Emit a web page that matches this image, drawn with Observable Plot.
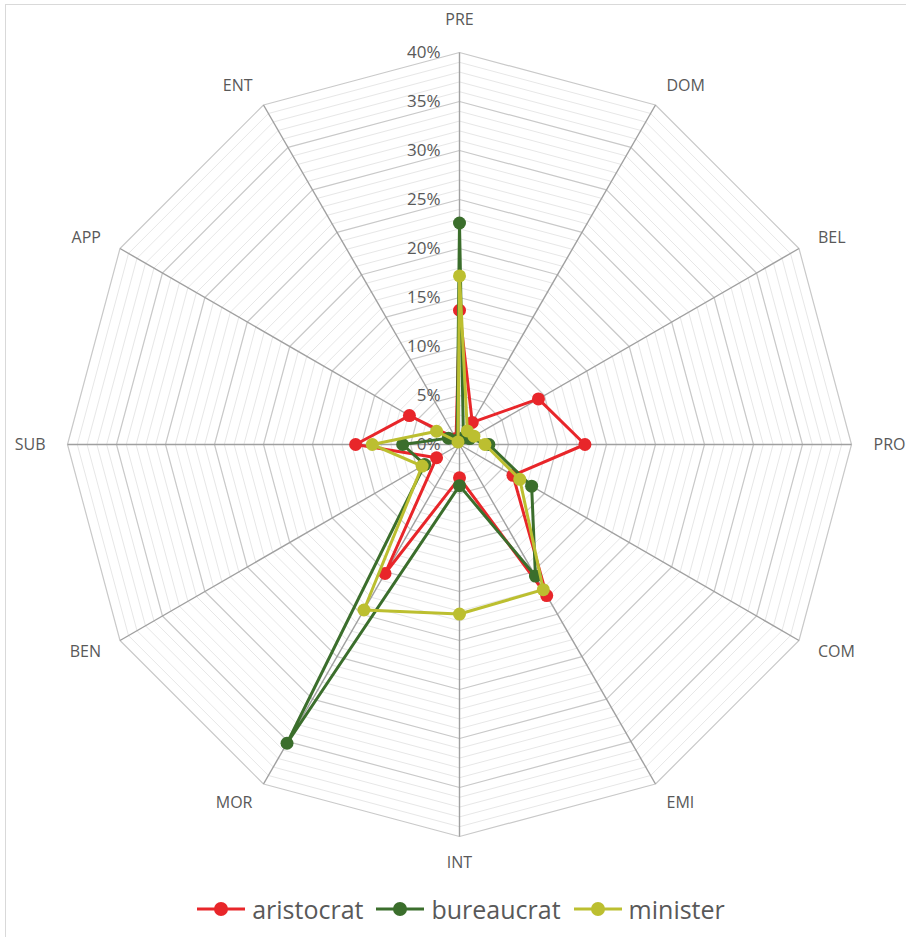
<!DOCTYPE html>
<html>
<head>
<meta charset="utf-8">
<script src="https://cdn.jsdelivr.net/npm/d3@7"></script>
<script src="https://cdn.jsdelivr.net/npm/@observablehq/plot@0.6"></script>
<style>
  html, body { margin: 0; padding: 0; background: #fff; overflow: hidden; }
  body { width: 906px; height: 937px; position: relative; font-family: "Open Sans", sans-serif; }
  #frame { position: absolute; left: 5px; top: 4px; width: 1000px; height: 1000px; border: 1.5px solid #d9d9d9; pointer-events: none; }
  #chart { position: absolute; left: 0; top: 0; }
  #legend { position: absolute; left: 0; top: 880px; width: 906px; height: 57px; display: flex; justify-content: center; align-items: center; gap: 13px; padding-left: 16px; box-sizing: border-box; }
  .item { display: flex; align-items: center; gap: 7px; font-size: 25px; color: #595959; }
</style>
</head>
<body>
<div id="chart"></div>
<div id="legend"></div>
<div id="frame"></div>
<script>
const categories = ["PRE","DOM","BEL","PRO","COM","EMI","INT","MOR","BEN","SUB","APP","ENT"];
const aristocrat = [13.7, 2.6, 9.3, 12.8, 6.3, 17.8, 3.4, 15.2, 2.7, 10.6, 5.9, 0.7];
const bureaucrat = [22.6, 0.8, 1.2, 3.0, 8.5, 15.5, 4.2, 35.2, 4.1, 5.8, 1.3, 0.5];
const minister   = [17.2, 1.6, 1.7, 2.6, 7.1, 17.1, 17.3, 19.5, 4.4, 8.9, 2.7, 0.3];
const seriesNames = ["aristocrat", "bureaucrat", "minister"];
const seriesColors = ["#e8262a", "#3b6e2c", "#bcbf30"];
const tickValues = [0, 5, 10, 15, 20, 25, 30, 35, 40];
const tickLabels = ["0%", "5%", "10%", "15%", "20%", "25%", "30%", "35%", "40%"];

const W = 906, H = 880, cx = 459, cy = 444, k = 9.8, maxV = 40;
const n = categories.length;
const ang = i => (i * 2 * Math.PI) / n;
const px = (v, i) => v * Math.sin(ang(i));
const py = (v, i) => v * Math.cos(ang(i));

// grid rings
const rings = [];
for (let v = 1; v <= maxV; v++) {
  for (let i = 0; i <= n; i++) rings.push({ring: v, major: v % 5 === 0, x: px(v, i % n), y: py(v, i % n)});
}
const minor = rings.filter(d => !d.major);
const major = rings.filter(d => d.major);
const spokes = categories.map((c, i) => ({x2: px(maxV, i), y2: py(maxV, i)}));

const allSeries = [aristocrat, bureaucrat, minister];
const seriesMarks = [];
allSeries.forEach((vals, s) => {
  const pts = vals.map((v, i) => ({x: px(v, i), y: py(v, i)}));
  const closed = pts.concat([pts[0]]);
  seriesMarks.push(Plot.line(closed, {x: "x", y: "y", stroke: seriesColors[s], strokeWidth: 3, strokeLinejoin: "round", curve: "linear"}));
  seriesMarks.push(Plot.dot(pts, {x: "x", y: "y", r: 6.5, fill: seriesColors[s], stroke: "none"}));
});

const labR = maxV + 22 / k;
const labels = categories.map((c, i) => {
  const s = Math.sin(ang(i)), co = Math.cos(ang(i));
  let anchor = Math.abs(s) < 0.1 ? "middle" : (s > 0 ? "start" : "end");
  let dy = Math.abs(s) < 0.1 ? (co > 0 ? -11 : 4) : 0;
  return {name: c, x: px(labR, i), y: py(labR, i), anchor, dy};
});

const ticks = tickValues.map((v, j) => ({x: 0, y: v, label: tickLabels[j]}));

const plot = Plot.plot({
  width: W, height: H,
  marginTop: 0, marginRight: 0, marginBottom: 0, marginLeft: 0,
  x: {domain: [-cx / k, (W - cx) / k], range: [0, W], axis: null},
  y: {domain: [-(H - cy) / k, cy / k], range: [H, 0], axis: null},
  style: {fontFamily: "'Open Sans', sans-serif", background: "transparent"},
  marks: [
    Plot.line(minor, {x: "x", y: "y", z: "ring", stroke: "#e7e7e7", strokeWidth: 1}),
    Plot.line(major, {x: "x", y: "y", z: "ring", stroke: "#c9c9c9", strokeWidth: 1.2}),
    Plot.link(spokes, {x1: 0, y1: 0, x2: "x2", y2: "y2", stroke: "#a0a0a0", strokeWidth: 1.4}),
    Plot.text(ticks, {x: "x", y: "y", text: "label", textAnchor: "end", dx: -19, fontSize: 17, fill: "#595959", lineAnchor: "middle"}),
    ...seriesMarks,
    ...labels.map(l => Plot.text([l], {x: "x", y: "y", text: "name", textAnchor: l.anchor, dy: l.dy, fontSize: 16, fill: "#595959", lineAnchor: "middle"}))
  ]
});
document.getElementById("chart").appendChild(plot);

const legend = document.getElementById("legend");
seriesNames.forEach((name, s) => {
  const item = document.createElement("div");
  item.className = "item";
  item.innerHTML = `<svg width="48" height="20"><line x1="0" y1="10" x2="48" y2="10" stroke="${seriesColors[s]}" stroke-width="3"/><circle cx="24" cy="10" r="7" fill="${seriesColors[s]}"/></svg><span>${name}</span>`;
  legend.appendChild(item);
});
</script>
</body>
</html>
